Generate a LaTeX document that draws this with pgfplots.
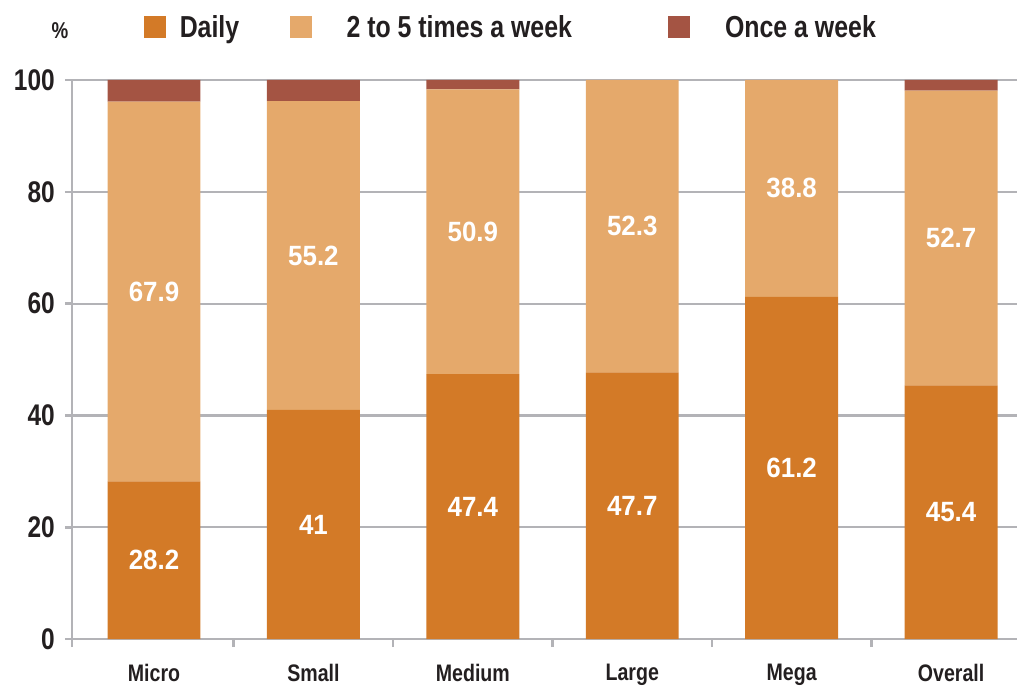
\documentclass[border=0pt]{standalone}
\usepackage{fontspec}
\setmainfont{Liberation Sans}[FakeStretch=0.82]
\newfontfamily\barfont{Liberation Sans}[FakeStretch=0.93]
\usepackage{pgfplots}
\pgfplotsset{compat=1.18}
\definecolor{cDaily}{HTML}{D37A27}
\definecolor{cTwo}{HTML}{E5A96B}
\definecolor{cOnce}{HTML}{A45443}
\definecolor{cGrid}{HTML}{B3B3B7}
\definecolor{cText}{HTML}{231F20}
\begin{document}
\begin{tikzpicture}
\begin{axis}[
  at={(0,0)}, anchor=south west,
  scale only axis,
  width=946bp, height=560bp,
  xmin=-0.515, xmax=5.412,
  ymin=0, ymax=100,
  ybar stacked,
  bar width=93bp,
  axis x line*=bottom, axis y line*=left,
  axis line style={cGrid, line width=2.5bp, -},
  ymajorgrids,
  grid style={cGrid, line width=2.2bp},
  ytick={0,20,...,100},
  xtick={0,...,5},
  xticklabels={Micro,Small,Medium,Large,Mega,Overall},
  minor xtick={-0.515,0.5,1.5,2.5,3.5,4.5},
  tick align=outside,
  major tick style={cGrid, line width=2.5bp},
  minor tick style={cGrid, line width=2.5bp},
  xtick style={draw=none},
  minor x tick style={draw=cGrid},
  minor tick length=8bp,
  major tick length=7bp,
  /pgf/number format/assume math mode=true,
  yticklabel style={font=\bfseries\fontsize{30}{30}\selectfont, text=cText, inner xsep=10bp},
  xticklabel style={font=\bfseries\fontsize{24}{24}\selectfont, text=cText, yshift=-14bp},
  legend style={at={(axis description cs:0.0761,1.095)}, anchor=west, draw=none,
    inner sep=0pt, outer sep=0pt, font=\bfseries\fontsize{30.5}{30.5}\selectfont, text=cText,
    nodes={inner sep=0pt, outer sep=0pt},
    /tikz/every even column/.append style={column sep=0pt}},
  legend columns=3,
  legend image code/.code={\fill[#1] (0bp,-11bp) rectangle (22bp,11bp);},
  visualization depends on=rawy \as \rawy,
  clip=false,
]
\addplot[fill=cDaily, draw=none,
  nodes near coords={\pgfmathprintnumber{\rawy}},
  every node near coord/.append style={anchor=center, text=white,
    font=\barfont\bfseries\fontsize{28}{28}\selectfont}]
  coordinates {(0,28.2) (1,41) (2,47.4) (3,47.7) (4,61.2) (5,45.4)};
\addplot[fill=cTwo, draw=none,
  nodes near coords={\pgfmathprintnumber{\rawy}},
  every node near coord/.append style={anchor=center, text=white,
    font=\barfont\bfseries\fontsize{28}{28}\selectfont}]
  coordinates {(0,67.9) (1,55.2) (2,50.9) (3,52.3) (4,38.8) (5,52.7)};
\addplot[fill=cOnce, draw=none]
  coordinates {(0,3.9) (1,3.8) (2,1.7) (3,0) (4,0) (5,1.9)};
\legend{\hspace*{14bp}\makebox[110bp][l]{Daily},
        \hspace*{35bp}\makebox[322bp][l]{2 to 5 times a week},
        \hspace*{35bp}Once a week}
\node[font=\bfseries\fontsize{23}{23}\selectfont, text=cText] at ([shift={(-12bp,49bp)}]axis description cs:0,1) {\%};
\end{axis}
\useasboundingbox (-72bp,-43bp) rectangle (946bp,640bp);
\end{tikzpicture}
\end{document}
